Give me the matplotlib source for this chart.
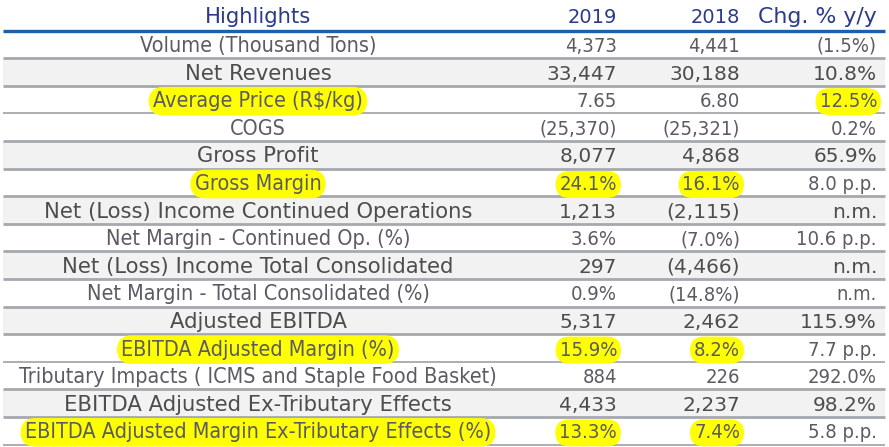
import matplotlib
matplotlib.use("Agg")
import matplotlib.pyplot as plt
from matplotlib.patches import Rectangle

# table content
header = ["Highlights", "2019", "2018", "Chg. % y/y"]
labels = [
    "Volume (Thousand Tons)",
    "Net Revenues",
    "Average Price (R$/kg)",
    "COGS",
    "Gross Profit",
    "Gross Margin",
    "Net (Loss) Income Continued Operations",
    "Net Margin - Continued Op. (%)",
    "Net (Loss) Income Total Consolidated",
    "Net Margin - Total Consolidated (%)",
    "Adjusted EBITDA",
    "EBITDA Adjusted Margin (%)",
    "Tributary Impacts ( ICMS and Staple Food Basket)",
    "EBITDA Adjusted Ex-Tributary Effects",
    "EBITDA Adjusted Margin Ex-Tributary Effects (%)",
]
v2019 = ["4,373", "33,447", "7.65", "(25,370)", "8,077", "24.1%", "1,213", "3.6%",
         "297", "0.9%", "5,317", "15.9%", "884", "4,433", "13.3%"]
v2018 = ["4,441", "30,188", "6.80", "(25,321)", "4,868", "16.1%", "(2,115)", "(7.0%)",
         "(4,466)", "(14.8%)", "2,462", "8.2%", "226", "2,237", "7.4%"]
chg = ["(1.5%)", "10.8%", "12.5%", "0.2%", "65.9%", "8.0 p.p.", "n.m.", "10.6 p.p.",
       "n.m.", "n.m.", "115.9%", "7.7 p.p.", "292.0%", "98.2%", "5.8 p.p."]

# rows drawn shaded / wider, and which cells carry a yellow marker
strong_rows = [1, 4, 6, 8, 10, 13]
marked = {
    2: (True, False, False, True),
    5: (True, True, True, False),
    11: (True, True, True, False),
    14: (True, True, True, False),
}

plt.rcParams["font.family"] = "DejaVu Sans"

W, H = 889, 447
fig = plt.figure(figsize=(W / 100, H / 100), dpi=100)
ax = fig.add_axes([0, 0, 1, 1])
ax.set_xlim(0, W)
ax.set_ylim(H, 0)
ax.axis("off")

x0, x1 = 3, 885
top = 30.5
row_h = (444.5 - top) / len(labels)
label_cx = 258
col_right = [617, 740, 877]

hl = dict(boxstyle="round,pad=0.2,rounding_size=0.7", fc="#ffff00", ec="none")

# header
hdr_color = "#2b3a8a"
ax.text(label_cx, 23, header[0], ha="center", va="baseline", fontsize=15.2, color=hdr_color)
for xr, txt, fs in zip(col_right, header[1:], [14, 14, 15.8]):
    ax.text(xr, 23, txt, ha="right", va="baseline", fontsize=fs, color=hdr_color)
ax.plot([x0, x1], [top, top], color="#1f5ea8", lw=2.4, solid_capstyle="butt")

for i, lab in enumerate(labels):
    y_top = top + i * row_h
    base = y_top + 21.5
    strong = i in strong_rows
    if strong:
        ax.add_patch(Rectangle((x0, y_top), x1 - x0, row_h, fc="#f2f2f2", ec="none", zorder=0))
        fs_lab, fs_val, stretch, col = 15.2, 14.5, "normal", "#4d4d4d"
    else:
        fs_lab, fs_val, stretch, col = 15.5, 14.5, "condensed", "#5b5b63"
    marks = marked.get(i, (False, False, False, False))
    ax.text(label_cx, base, lab, ha="center", va="baseline", fontsize=fs_lab,
            fontstretch=stretch, color=col, bbox=hl if marks[0] else None)
    for j, (xr, txt) in enumerate(zip(col_right, (v2019[i], v2018[i], chg[i]))):
        ax.text(xr, base, txt, ha="right", va="baseline", fontsize=fs_val,
                fontstretch=stretch, color=col, bbox=hl if marks[j + 1] else None)
    y_bot = y_top + row_h
    lw = 2.0 if strong or (i + 1) in strong_rows else 1.3
    ax.plot([x0, x1], [y_bot, y_bot], color="#a5a8ad", lw=lw, solid_capstyle="butt")

fig.savefig("out.png", dpi=100)
